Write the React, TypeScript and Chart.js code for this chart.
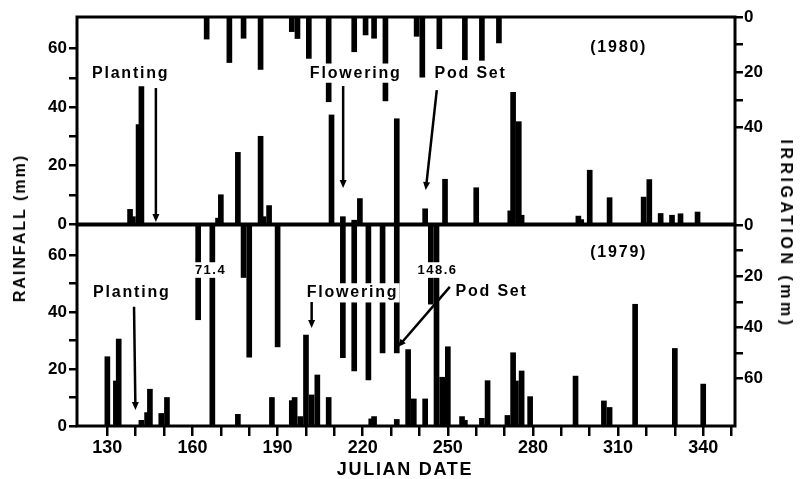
import React, { useEffect, useRef } from 'react';
import { Chart, registerables } from 'chart.js';

Chart.register(...registerables);

// ---------- DATA ----------
// 1980 panel
const rain1980Days = [138, 139, 141, 142, 169, 170, 176, 184, 185, 187, 209, 213, 217, 219, 232, 242, 249, 260, 272, 273, 275, 276, 296, 297, 300, 307, 319, 321, 325, 329, 332, 338];
const rain1980Mm = [5, 2.5, 34, 47, 2, 10, 24.5, 30, 2.5, 6.3, 37.3, 2.5, 1.3, 8.7, 36, 5.2, 15.3, 12.4, 4.5, 45, 35, 3, 2.7, 1.5, 18.4, 9, 9.2, 15.2, 3.6, 3, 3.5, 4.1];
const irr1980Days = [165, 173, 178, 184, 195, 197, 201, 208, 217, 221, 224, 228, 239, 241, 247, 256, 262, 268];
const irr1980Mm = [8, 16.5, 7.7, 19, 5.3, 7.8, 15, 30.7, 12.6, 6.5, 7.7, 30.4, 7, 21.8, 11.5, 15.5, 15.7, 9.4];

// 1979 panel
const rain1979Days = [130, 133, 134, 142, 144, 145, 149, 151, 167, 176, 188, 195, 196, 198, 200, 202, 204, 208, 223, 224, 232, 236, 238, 242, 246, 248, 250, 255, 256, 262, 264, 271, 273, 274, 276, 279, 295, 305, 307, 316, 330, 340];
const rain1979Mm = [24.3, 15.8, 30.5, 2, 4.7, 12.9, 4.4, 10, 71.4, 4.1, 10, 8.9, 10, 3.3, 31.9, 10.9, 17.9, 10, 2.5, 3.3, 2.3, 26.8, 9.5, 9.5, 148.6, 17.1, 27.8, 3.3, 2, 2.7, 15.9, 3.7, 25.7, 15.8, 19.3, 10.3, 17.5, 8.8, 6.5, 42.7, 27.2, 14.7];
const irr1979Days = [162, 178, 180, 190, 213, 217, 222, 227, 232, 244];
const irr1979Mm = [37, 20.5, 51.6, 47.6, 51.8, 57, 60.5, 50, 50, 30.9];

// axes
const xTicks = [130, 140, 150, 160, 170, 180, 190, 200, 210, 220, 230, 240, 250, 260, 270, 280, 290, 300, 310, 320, 330, 340, 350];
const xTickLabels = [130, 160, 190, 220, 250, 280, 310, 340];
const rainTicks = [0, 10, 20, 30, 40, 50, 60];
const rainTickLabels = [0, 20, 40, 60];
const irr1980Ticks = [0, 10, 20, 30, 40];
const irr1979Ticks = [0, 10, 20, 30, 40, 50, 60];
const irrTickLabels = [0, 20, 40, 60];

// annotations (day, rainfall mm)
const notes1980 = [
  { t: 'Planting', d: 137.9, v: 51.6, s: 16, bg: false },
  { t: 'Flowering', d: 217.2, v: 51.6, s: 16, bg: true },
  { t: 'Pod Set', d: 257.7, v: 51.6, s: 16, bg: true },
  { t: '(1980)', d: 309.9, v: 60.2, s: 16, bg: false },
];
const arrows1980 = [
  [147.1, 46.5, 147.1, 0.7],
  [213.1, 47.2, 213.1, 12.3],
  [246.1, 45.8, 242.2, 11.6],
];
const notes1979 = [
  { t: 'Planting', d: 138.3, v: 46.7, s: 16, bg: false },
  { t: 'Flowering', d: 216.1, v: 46.7, s: 16, bg: true },
  { t: 'Pod Set', d: 265.1, v: 47, s: 16, bg: true },
  { t: '71.4', d: 166.1, v: 54.7, s: 13, bg: true },
  { t: '148.6', d: 246.1, v: 54.7, s: 13, bg: true },
  { t: '(1979)', d: 309.9, v: 60.7, s: 16, bg: false },
];
const arrows1979 = [
  [139.4, 41.8, 139.9, 5.6],
  [202, 43.5, 202, 34.4],
  [250.7, 48.8, 232.4, 27.7],
];

const FONT = '"Liberation Sans", Arial, Helvetica, sans-serif';

function drawText(ctx: any, text: string, x: number, y: number, size: number, bg: boolean) {
  ctx.save();
  ctx.font = `bold ${size}px ${FONT}`;
  const ls = size >= 15 ? 1.8 : 1.5;
  ctx.letterSpacing = ls + 'px';
  ctx.textAlign = 'left';
  ctx.textBaseline = 'middle';
  const w = ctx.measureText(text).width - ls;
  const x0 = x - w / 2;
  if (bg) {
    ctx.fillStyle = '#fff';
    ctx.fillRect(x0 - 3, y - size * 0.6, w + 6, size * 1.2);
  }
  ctx.fillStyle = '#000';
  ctx.fillText(text, x0, y);
  ctx.restore();
}

function drawArrow(ctx: any, x1: number, y1: number, x2: number, y2: number) {
  const a = Math.atan2(y2 - y1, x2 - x1);
  const head = 8, hw = 3.5;
  const c = Math.cos(a), s = Math.sin(a);
  ctx.save();
  ctx.strokeStyle = '#000';
  ctx.fillStyle = '#000';
  ctx.lineWidth = 2.5;
  ctx.beginPath();
  ctx.moveTo(x1, y1);
  ctx.lineTo(x2 - c * head * 0.7, y2 - s * head * 0.7);
  ctx.stroke();
  ctx.beginPath();
  ctx.moveTo(x2, y2);
  ctx.lineTo(x2 - c * head - s * hw, y2 - s * head + c * hw);
  ctx.lineTo(x2 - c * head + s * hw, y2 - s * head - c * hw);
  ctx.closePath();
  ctx.fill();
  ctx.restore();
}

function makePlugin(notes: any[], arrows: number[][]) {
  return {
    id: 'panelDecor',
    afterDatasetsDraw(chart: any) {
      const ctx = chart.ctx;
      const xs = chart.scales.x;
      const ys = chart.scales.yRain;
      notes.forEach((n) => drawText(ctx, n.t, xs.getPixelForValue(n.d), ys.getPixelForValue(n.v), n.s, n.bg));
      arrows.forEach((a) =>
        drawArrow(ctx, xs.getPixelForValue(a[0]), ys.getPixelForValue(a[1]), xs.getPixelForValue(a[2]), ys.getPixelForValue(a[3]))
      );
      const ca = chart.chartArea;
      ctx.save();
      ctx.strokeStyle = '#000';
      ctx.lineWidth = 3;
      ctx.strokeRect(ca.left, ca.top, ca.right - ca.left, ca.bottom - ca.top);
      ctx.restore();
    },
  };
}

function buildConfig(p: any) {
  const tickFont = { family: FONT, size: 17, weight: 'bold' as const };
  const gridCfg = { drawOnChartArea: false, drawTicks: true, tickLength: 8, color: '#000', lineWidth: 2.5 };
  return {
    type: 'bar' as const,
    data: {
      datasets: [
        {
          label: 'Rainfall',
          data: p.rainDays.map((d: number, i: number) => ({ x: d, y: p.rainMm[i] })),
          yAxisID: 'yRain',
          backgroundColor: '#000',
          barThickness: 5,
          clip: 0,
        },
        {
          label: 'Irrigation',
          data: p.irrDays.map((d: number, i: number) => ({ x: d, y: p.irrMm[i] })),
          yAxisID: 'yIrr',
          backgroundColor: '#000',
          barThickness: 5,
          clip: 0,
        },
      ],
    },
    options: {
      responsive: false,
      animation: false,
      devicePixelRatio: 1,
      layout: { padding: { top: p.padTop, bottom: p.padBottom, left: 0, right: 0 } },
      datasets: { bar: { grouped: false } },
      plugins: { legend: { display: false }, tooltip: { enabled: false } },
      scales: {
        x: {
          type: 'linear',
          min: 119.3,
          max: 351.2,
          offset: false,
          display: p.showX,
          afterBuildTicks: (s: any) => { s.ticks = xTicks.map((v) => ({ value: v })); },
          afterFit: (s: any) => { s.height = p.showX ? 53 : 0; },
          grid: { offset: false, drawOnChartArea: false, drawTicks: true, tickLength: 10, color: '#000', lineWidth: 2.5 },
          border: { display: false },
          ticks: {
            autoSkip: false,
            maxRotation: 0,
            color: '#000',
            padding: 1,
            font: { family: FONT, size: 18, weight: 'bold' },
            callback: (v: any) => (xTickLabels.includes(v) ? String(v) : ''),
          },
        },
        yRain: {
          type: 'linear',
          position: 'left',
          min: 0,
          max: p.rainMax,
          afterBuildTicks: (s: any) => { s.ticks = rainTicks.map((v) => ({ value: v })); },
          afterFit: (s: any) => { s.width = 77; },
          grid: gridCfg,
          border: { display: false },
          ticks: {
            color: '#000',
            padding: 2,
            font: tickFont,
            callback: (v: any) => (rainTickLabels.includes(v) ? String(v) : ''),
          },
        },
        yIrr: {
          type: 'linear',
          position: 'right',
          reverse: true,
          min: 0,
          max: p.irrMax,
          afterBuildTicks: (s: any) => { s.ticks = p.irrTicks.map((v: number) => ({ value: v })); },
          afterFit: (s: any) => { s.width = 65; },
          grid: gridCfg,
          border: { display: false },
          ticks: {
            color: '#000',
            padding: 1,
            font: tickFont,
            callback: (v: any) => (irrTickLabels.includes(v) ? String(v) : ''),
          },
        },
      },
    },
    plugins: [makePlugin(p.notes, p.arrows)],
  };
}

export default function App() {
  const topRef = useRef<HTMLCanvasElement>(null);
  const botRef = useRef<HTMLCanvasElement>(null);

  useEffect(() => {
    document.body.style.margin = '0';
    document.body.style.background = '#fff';
    const c1 = new Chart(topRef.current as any, buildConfig({
      rainDays: rain1980Days, rainMm: rain1980Mm, irrDays: irr1980Days, irrMm: irr1980Mm,
      rainMax: 70.8, irrMax: 75, irrTicks: irr1980Ticks, padTop: 17, padBottom: 16, showX: false,
      notes: notes1980, arrows: arrows1980,
    }) as any);
    const c2 = new Chart(botRef.current as any, buildConfig({
      rainDays: rain1979Days, rainMm: rain1979Mm, irrDays: irr1979Days, irrMm: irr1979Mm,
      rainMax: 70.5, irrMax: 78.5, irrTicks: irr1979Ticks, padTop: 20, padBottom: 0, showX: true,
      notes: notes1979, arrows: arrows1979,
    }) as any);
    return () => { c1.destroy(); c2.destroy(); };
  }, []);

  const titleBase: React.CSSProperties = {
    position: 'absolute',
    fontFamily: FONT,
    fontWeight: 'bold',
    color: '#000',
    whiteSpace: 'nowrap',
    lineHeight: 1,
  };

  return (
    <div style={{ position: 'relative', width: 800, height: 479, background: '#fff', overflow: 'hidden' }}>
      <canvas ref={topRef} width={800} height={240} style={{ position: 'absolute', left: 0, top: 0 }} />
      <canvas ref={botRef} width={800} height={274} style={{ position: 'absolute', left: 0, top: 205 }} />
      <div style={{ ...titleBase, left: 20, top: 228, fontSize: 16, letterSpacing: 2, transform: 'translate(-50%,-50%) rotate(-90deg)' }}>
        RAINFALL (mm)
      </div>
      <div style={{ ...titleBase, left: 786, top: 234, fontSize: 16, letterSpacing: 3.5, transform: 'translate(-50%,-50%) rotate(90deg)' }}>
        IRRIGATION (mm)
      </div>
      <div style={{ ...titleBase, left: 405, top: 469, fontSize: 18, letterSpacing: 1.7, transform: 'translate(-50%,-50%)' }}>
        JULIAN DATE
      </div>
    </div>
  );
}
